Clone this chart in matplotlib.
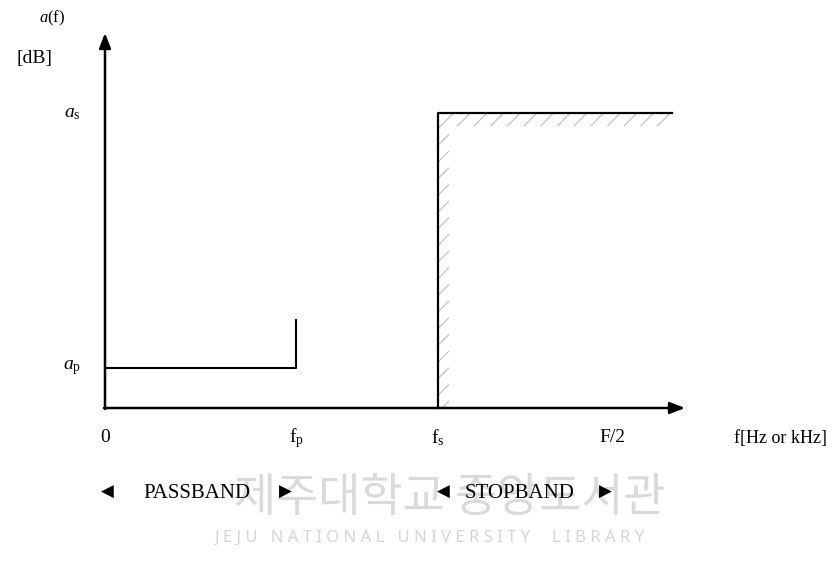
import matplotlib.pyplot as plt

# attenuation spec (units: arbitrary, origin at axes crossing)
f_p = 191        # passband edge
f_s = 333        # stopband edge
f_half = 507     # F/2 label position
f_end = 567      # end of stopband spec line
a_p = 40         # max passband attenuation
a_p_top = 88     # top of passband edge marker
a_s = 295        # min stopband attenuation

x_labels = ['0', '$\\mathregular{f_p}$', '$\\mathregular{f_s}$', 'F/2']
x_label_pos = [0, f_p, f_s, f_half]

plt.rcParams['font.family'] = ['Liberation Serif', 'DejaVu Serif']
plt.rcParams['mathtext.fontset'] = 'custom'
plt.rcParams['mathtext.rm'] = 'Liberation Serif'
plt.rcParams['mathtext.it'] = 'Liberation Serif:italic'

fig = plt.figure(figsize=(8.33, 5.65), dpi=100)
ax = fig.add_axes([0, 0, 1, 1])
ax.set_xlim(-105, 728)
ax.set_ylim(-157, 408)
ax.axis('off')

# axes with arrows
ax.annotate('', xy=(580, 0), xytext=(-1, 0),
            arrowprops=dict(arrowstyle='-|>,head_length=0.9,head_width=0.35',
                            lw=1.8, color='black', shrinkA=0, shrinkB=0))
ax.annotate('', xy=(0, 375), xytext=(0, -1),
            arrowprops=dict(arrowstyle='-|>,head_length=0.9,head_width=0.35',
                            lw=1.8, color='black', shrinkA=0, shrinkB=0))

# passband spec
ax.plot([0, f_p, f_p], [a_p, a_p, a_p_top], color='black', lw=1.5)

# stopband spec
ax.plot([f_s, f_s, f_end], [0, a_s, a_s], color='black', lw=1.6)
plt.rcParams['hatch.linewidth'] = 0.7
ax.fill_between([f_s, f_end], a_s - 13, a_s, facecolor='none',
                edgecolor='#b5b5b5', hatch='//', lw=0)
ax.fill_between([f_s, f_s + 11], 0, a_s - 13, facecolor='none',
                edgecolor='#b5b5b5', hatch='//', lw=0)

# tick labels
for lab, x in zip(x_labels, x_label_pos):
    ax.text(x, -30, lab, ha='center', va='center', fontsize=14)
ax.text(629, -30, 'f[Hz or kHz]', ha='left', va='center', fontsize=13)

ax.text(-33, a_s, '$a_{\\mathregular{s}}$', ha='center', va='center', fontsize=14)
ax.text(-33, a_p, '$a_{\\mathregular{p}}$', ha='center', va='center', fontsize=14)
ax.text(-53, 390, '$a$(f)', ha='center', va='center', fontsize=12)
ax.text(-71, 350, '[dB]', ha='center', va='center', fontsize=14)

# library watermark
ax.text(345, -90, '제주대학교 중앙도서관', ha='center', va='center', fontsize=33,
        color='#dadada', family='Noto Sans CJK KR', zorder=0)
wm = '   '.join(' '.join(w) for w in ['JEJU', 'NATIONAL', 'UNIVERSITY', ' LIBRARY'])
ax.text(324, -130, wm, ha='center', va='center',
        fontsize=12, color='#d6d6d6', family='Noto Sans', zorder=0)

# band labels
ax.text(2, -84, '\u25c0', ha='center', va='center', fontsize=12, family='DejaVu Sans')
ax.text(92, -86, 'PASSBAND', ha='center', va='center', fontsize=15)
ax.text(180, -84, '\u25b6', ha='center', va='center', fontsize=12, family='DejaVu Sans')
ax.text(338, -84, '\u25c0', ha='center', va='center', fontsize=12, family='DejaVu Sans')
ax.text(415, -86, 'STOPBAND', ha='center', va='center', fontsize=15)
ax.text(500, -84, '\u25b6', ha='center', va='center', fontsize=12, family='DejaVu Sans')

fig.savefig('out.png', dpi=100)
